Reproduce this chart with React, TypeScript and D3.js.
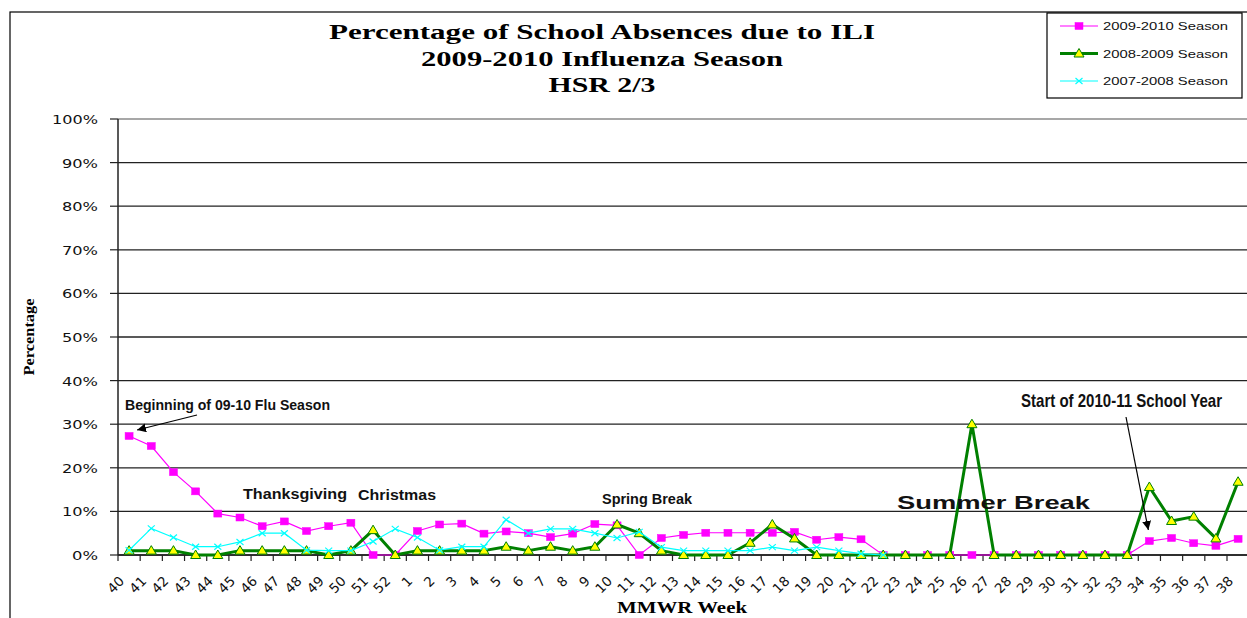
import React from "react";
import * as d3 from "d3";

const weeks = [
  "40","41","42","43","44","45","46","47","48","49","50","51","52",
  "1","2","3","4","5","6","7","8","9","10","11","12","13","14","15","16","17","18","19","20",
  "21","22","23","24","25","26","27","28","29","30","31","32","33","34","35","36","37","38",
];

const s0910 = [
  27.3, 25, 19, 14.6, 9.5, 8.6, 6.6, 7.7, 5.5, 6.6, 7.4, 0, 0,
  5.5, 7, 7.2, 4.9, 5.4, 5, 4.1, 4.9, 7.1, 6.8, 0, 3.9, 4.6, 5.1, 5.1, 5.1, 5.1, 5.3, 3.5, 4.1,
  3.6, 0, 0, 0, 0, 0, 0, 0, 0, 0, 0, 0, 0, 3.2, 3.9, 2.7, 2.1, 3.7,
];

const s0809 = [
  1, 1, 1, 0, 0, 1, 1, 1, 1, 0, 1, 5.7, 0,
  1, 1, 1, 1, 1.9, 1, 1.9, 1, 1.9, 7, 5, 1, 0, 0, 0, 2.8, 7, 3.8, 0, 0,
  0, 0, 0, 0, 0, 30, 0, 0, 0, 0, 0, 0, 0, 15.6, 7.8, 8.8, 3.8, 16.8,
];

const s0708 = [
  1.1, 6.1, 4, 1.9, 1.9, 3, 5, 5, 1.1, 1, 1, 3.1, 6,
  4, 1.1, 1.9, 1.9, 8.1, 5, 6, 6, 5, 3.9, 5.3, 1.8, 1, 1, 1, 1, 1.8, 1, 1.8, 1,
  0.3, 0,
];

const seriesNames = ["2009-2010 Season", "2008-2009 Season", "2007-2008 Season"];
const yTicks = [0, 10, 20, 30, 40, 50, 60, 70, 80, 90, 100];
const titleLines = [
  "Percentage of School Absences due to ILI",
  "2009-2010 Influenza Season",
  "HSR 2/3",
];

const W = 1247;
const H = 618;
const plotL = 118;
const plotT = 119;
const plotB = 555;
const band = 22.18;

export default function App() {
  const x = d3
    .scaleBand<string>()
    .domain(weeks)
    .range([plotL, plotL + band * weeks.length])
    .paddingInner(0)
    .paddingOuter(0);
  const y = d3.scaleLinear().domain([0, 100]).range([plotB, plotT]);
  const cx = (w: string) => (x(w) as number) + x.bandwidth() / 2;

  const line = d3
    .line<number>()
    .x((_, i) => cx(weeks[i]))
    .y((d) => y(d));

  const magenta = "#FF00FF";
  const green = "#008000";
  const cyan = "#00FFFF";

  const square = (px: number, py: number, k: string) => (
    <rect key={k} x={px - 4} y={py - 3.5} width={8} height={7} fill={magenta} stroke={magenta} strokeWidth={0.5} />
  );
  const tri = (px: number, py: number, k: string) => (
    <path key={k} d={`M${px},${py - 5} L${px + 5},${py + 3.5} L${px - 5},${py + 3.5} Z`} fill="#FFFF00" stroke={green} strokeWidth={1} />
  );
  const cross = (px: number, py: number, k: string) => (
    <path key={k} d={`M${px - 3.5},${py - 3} L${px + 3.5},${py + 3} M${px - 3.5},${py + 3} L${px + 3.5},${py - 3}`} stroke={cyan} strokeWidth={1.2} fill="none" />
  );

  const ticksX = weeks.map((w) => x(w) as number).concat([plotL + band * weeks.length]);

  const annoFont = "'Liberation Sans Narrow', 'Liberation Sans', Arial, sans-serif";

  // arrow endpoints tied to data points
  const a1End = { x: cx("40") + 8, y: y(s0910[0]) - 6 };
  const a2End = { x: cx("34") - 1, y: y(s0910[47]) - 8 };

  return (
    <svg width={W} height={H} style={{ position: "absolute", left: 0, top: 0, background: "#fff" }}>
      <defs>
        <marker id="ah" viewBox="0 0 10 10" refX="10" refY="5" markerWidth="9" markerHeight="9" orient="auto-start-reverse" markerUnits="userSpaceOnUse">
          <path d="M0,0 L10,5 L0,10 Z" fill="#000" />
        </marker>
      </defs>
      <rect x={0} y={0} width={W} height={H} fill="#fff" />
      {/* outer chart border */}
      <rect x={10} y={12} width={1300} height={700} fill="none" stroke="#000" strokeWidth={1.2} />

      {/* title */}
      {titleLines.map((t, i) => (
        <text
          key={t}
          x={602}
          y={39 + i * 26.5}
          textAnchor="middle"
          fontFamily="'Liberation Serif', 'Times New Roman', serif"
          fontWeight="bold"
          fontSize={20}
          textLength={[546, 362, 107][i]}
          lengthAdjust="spacingAndGlyphs"
        >
          {t}
        </text>
      ))}

      {/* gridlines */}
      {yTicks.map((t) => (
        <line key={t} x1={plotL} x2={W} y1={y(t)} y2={y(t)} stroke={t === 100 ? "#8a8a8a" : "#222"} strokeWidth={1.3} />
      ))}

      {/* y axis */}
      <line x1={plotL} x2={plotL} y1={plotT} y2={plotB} stroke="#222" strokeWidth={1.5} />
      {yTicks.map((t) => (
        <g key={t}>
          <line x1={plotL - 8} x2={plotL} y1={y(t)} y2={y(t)} stroke="#222" strokeWidth={1.2} />
          <text
            x={98}
            y={y(t) + 5}
            textAnchor="end"
            fontFamily="'DejaVu Sans', Verdana, sans-serif"
            fontSize={13}
            textLength={String(t).length * 10 + 16}
            lengthAdjust="spacingAndGlyphs"
            fill="#111"
          >
            {t}%
          </text>
        </g>
      ))}

      {/* x axis */}
      <line x1={plotL} x2={W} y1={plotB} y2={plotB} stroke="#222" strokeWidth={1.5} />
      {ticksX.map((tx, i) => (
        <line key={i} x1={tx} x2={tx} y1={plotB} y2={plotB + 6} stroke="#222" strokeWidth={1.2} />
      ))}
      {weeks.map((w) => (
        <text
          key={w}
          transform={`translate(${cx(w) - 4},${plotB + 27}) rotate(-45)`}
          textAnchor="end"
          fontFamily="'DejaVu Sans', Verdana, sans-serif"
          fontSize={13.5}
          fill="#111"
        >
          {w}
        </text>
      ))}

      {/* axis titles */}
      <text
        transform={`translate(34,337) rotate(-90)`}
        textAnchor="middle"
        fontFamily="'Liberation Serif', 'Times New Roman', serif"
        fontWeight="bold"
        fontSize={14}
        textLength={77}
        lengthAdjust="spacingAndGlyphs"
      >
        Percentage
      </text>
      <text
        x={682}
        y={613}
        textAnchor="middle"
        fontFamily="'Liberation Serif', 'Times New Roman', serif"
        fontWeight="bold"
        fontSize={16}
        textLength={130}
        lengthAdjust="spacingAndGlyphs"
      >
        MMWR Week
      </text>

      {/* series: 2009-2010 */}
      <path d={line(s0910) || ""} fill="none" stroke={magenta} strokeWidth={1.2} />
      {s0910.map((v, i) => square(cx(weeks[i]), y(v), "m" + i))}
      {/* series: 2008-2009 */}
      <path d={line(s0809) || ""} fill="none" stroke={green} strokeWidth={3} strokeLinejoin="round" />
      {s0809.map((v, i) => tri(cx(weeks[i]), y(v), "g" + i))}
      {/* series: 2007-2008 */}
      <path d={line(s0708) || ""} fill="none" stroke={cyan} strokeWidth={1.2} />
      {s0708.map((v, i) => cross(cx(weeks[i]), y(v), "c" + i))}

      {/* annotations */}
      <text x={125} y={410} fontFamily={annoFont} fontWeight="bold" fontSize={15} textLength={205} lengthAdjust="spacingAndGlyphs" fill="#111">
        Beginning of 09-10 Flu Season
      </text>
      <line x1={197} y1={415} x2={a1End.x} y2={a1End.y} stroke="#000" strokeWidth={1.2} markerEnd="url(#ah)" />

      <text x={243} y={499} fontFamily="'Liberation Sans', Arial, sans-serif" fontWeight="bold" fontSize={14} textLength={104} lengthAdjust="spacingAndGlyphs" fill="#111">
        Thanksgiving
      </text>
      <text x={358} y={500} fontFamily="'Liberation Sans', Arial, sans-serif" fontWeight="bold" fontSize={15} textLength={78} lengthAdjust="spacingAndGlyphs" fill="#111">
        Christmas
      </text>
      <text x={602} y={504} fontFamily="'Liberation Sans', Arial, sans-serif" fontWeight="bold" fontSize={14} textLength={90} lengthAdjust="spacingAndGlyphs" fill="#111">
        Spring Break
      </text>
      <text x={897} y={509} fontFamily="'Liberation Sans', Arial, sans-serif" fontWeight="bold" fontSize={19} textLength={193} lengthAdjust="spacingAndGlyphs" fill="#111">
        Summer Break
      </text>
      <g transform="translate(1021,407) scale(1,1.2)">
        <text x={0} y={0} fontFamily={annoFont} fontWeight="bold" fontSize={15} textLength={201} lengthAdjust="spacingAndGlyphs" fill="#111">
          Start of 2010-11 School Year
        </text>
      </g>
      <line x1={1126} y1={417} x2={a2End.x} y2={a2End.y} stroke="#000" strokeWidth={1.2} markerEnd="url(#ah)" />

      {/* legend */}
      <rect x={1047} y={13} width={195} height={85} fill="#fff" stroke="#000" strokeWidth={1.2} />
      {seriesNames.map((n, i) => {
        const ly = 26 + i * 27.5;
        const mx = 1079;
        return (
          <g key={n}>
            <line x1={1060} x2={1098} y1={ly} y2={ly} stroke={[magenta, green, cyan][i]} strokeWidth={[1.2, 3, 1.2][i]} />
            {i === 0 && square(mx, ly, "lm")}
            {i === 1 && tri(mx, ly, "lg")}
            {i === 2 && cross(mx, ly, "lc")}
            <text x={1103} y={ly + 4} fontFamily="'Liberation Sans', Arial, sans-serif" fontSize={11.5} textLength={125} lengthAdjust="spacingAndGlyphs" fill="#111">
              {n}
            </text>
          </g>
        );
      })}
    </svg>
  );
}
